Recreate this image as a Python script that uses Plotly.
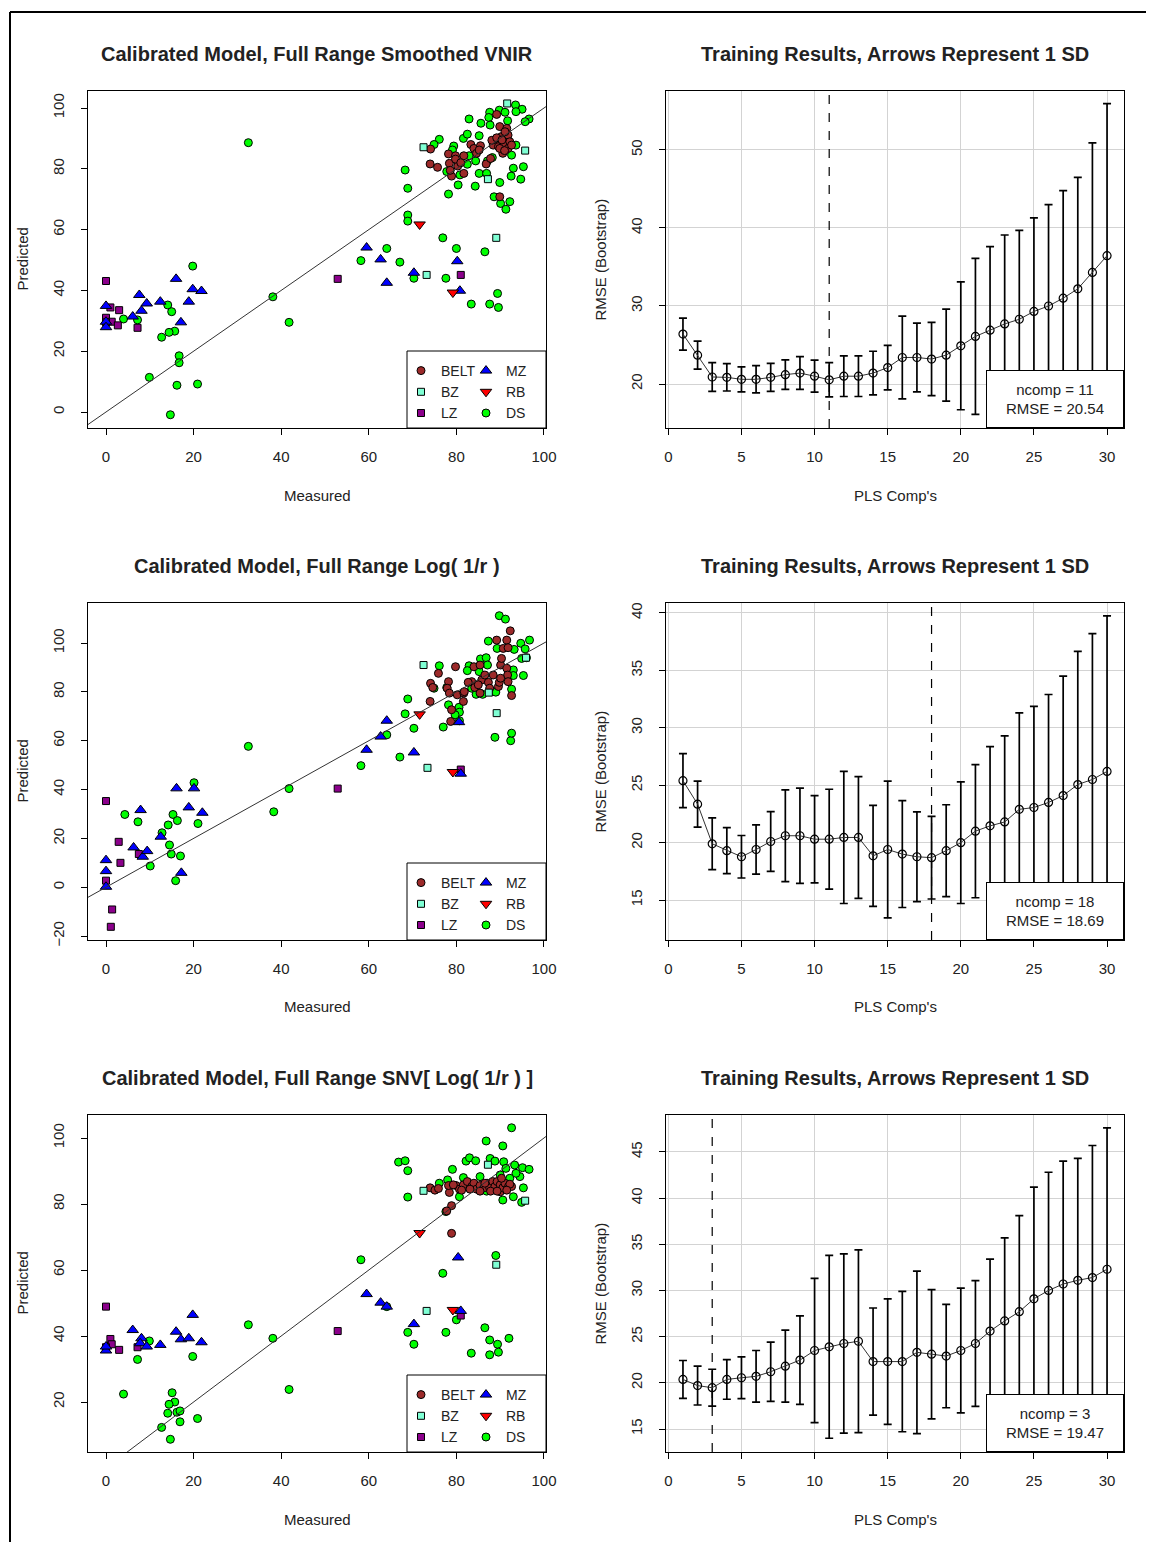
import plotly.graph_objects as go

# page offset: the html body adds an 8px margin around the figure
OFF = 8
W, H = 1154 - OFF, 1542 - OFF
FONT = "Liberation Sans, Arial, Helvetica, sans-serif"

# ---------------- data: calibrated models (measured, predicted) ----------------
VNIR_BELT = [(74.1, 86.5), (74.0, 81.6), (75.7, 80.5), (78.2, 84.9), (78.4, 81.8), (78.9, 77.6),
             (79.8, 84.3), (80.3, 80.9), (81.7, 84.3), (81.7, 78.5), (83.3, 88.0), (84.0, 86.7),
             (84.6, 85.1), (85.5, 87.6), (86.8, 81.6), (87.8, 83.4), (89.2, 97.9), (89.9, 93.9),
             (90.3, 90.6), (88.8, 88.9), (88.4, 87.8), (89.6, 87.3), (90.7, 88.4), (91.5, 93.3),
             (91.8, 91.1), (92.2, 88.9), (90.6, 85.1), (89.9, 86.7), (91.8, 86.7), (91.1, 92.2),
             (92.6, 87.8), (88.1, 89.4), (89.2, 90.2), (89.9, 70.8), (79.8, 83.2), (85.2, 86.2),
             (78.6, 79.5), (90.4, 89.5), (91.0, 86.0), (81.0, 82.0)]
VNIR_BZ = [(72.5, 87.1), (91.6, 101.5), (95.7, 86.0), (87.2, 76.6), (89.1, 57.3), (73.2, 45.1)]
VNIR_LZ = [(0, 43.1), (1.0, 34.4), (3.0, 33.5), (0, 31.0), (1.3, 29.7), (2.7, 28.5), (7.2, 27.7),
           (0, 29.5), (52.9, 43.8), (81.0, 45.1)]
VNIR_MZ = [(0, 34.9), (0, 29.7), (0, 27.9), (7.6, 38.5), (9.3, 35.7), (6.1, 31.4), (8.1, 33.3),
           (12.4, 36.3), (16.0, 43.8), (17.1, 29.5), (18.9, 36.3), (19.8, 40.4), (21.8, 39.8),
           (59.5, 54.1), (62.7, 50.2), (64.1, 42.5), (70.3, 45.8), (80.2, 49.6), (80.8, 39.9)]
VNIR_RB = [(71.6, 61.7), (79.2, 39.3)]
VNIR_DS = [(4.0, 30.6), (7.2, 30.3), (14.1, 35.2), (15.0, 33.0), (19.8, 48.0), (15.7, 26.6),
           (14.4, 26.2), (12.7, 24.6), (16.7, 18.5), (16.7, 16.2), (9.9, 11.4), (16.2, 8.8),
           (20.9, 9.2), (14.7, -0.9), (32.5, 88.6), (38.1, 37.9), (41.8, 29.5), (64.1, 53.8),
           (58.2, 49.8), (67.1, 49.3), (70.3, 44.0), (68.3, 79.6), (68.9, 73.6), (68.9, 64.8),
           (68.9, 62.8), (76.9, 57.3), (80.0, 53.8), (77.6, 44.0), (86.5, 52.7), (89.4, 39.0),
           (83.4, 35.5), (87.6, 35.5), (89.6, 34.4),
           (82.9, 96.4), (85.6, 95.0), (87.6, 98.6), (87.4, 96.9), (89.8, 99.3), (91.1, 98.6),
           (93.5, 101.0), (95.0, 99.6), (93.6, 98.8), (96.6, 96.4), (95.7, 95.5), (87.7, 94.4),
           (91.7, 95.8), (76.1, 89.7), (74.9, 88.0), (81.6, 90.0), (82.5, 91.4), (85.2, 90.9),
           (79.4, 87.5), (79.1, 86.2), (82.9, 84.3), (84.4, 82.6), (88.2, 83.7), (87.1, 82.6),
           (77.8, 79.1), (80.8, 78.0), (82.5, 81.5), (85.2, 78.5), (86.9, 78.5), (92.6, 84.5),
           (93.6, 87.8), (93.0, 80.2), (95.3, 80.7), (92.5, 77.6), (94.7, 76.6), (89.9, 75.5),
           (84.3, 74.3), (80.4, 74.7), (78.2, 71.7), (88.6, 70.8), (90.1, 68.6), (91.3, 66.7),
           (92.2, 69.2)]

LOG_BELT = [(74.0, 76.1), (74.1, 83.5), (74.6, 81.8), (75.9, 87.6), (78.2, 84.2), (77.9, 81.5),
            (79.8, 90.3), (78.4, 79.5), (80.2, 78.8), (81.7, 79.5), (81.6, 76.1), (81.8, 80.1),
            (78.9, 72.7), (78.7, 67.9), (84.0, 90.3), (85.4, 91.0), (83.5, 84.2), (84.2, 81.8),
            (85.8, 84.9), (87.3, 83.9), (88.4, 86.9), (87.6, 81.5), (89.6, 82.2), (89.8, 83.9),
            (90.1, 91.0), (90.3, 93.7), (90.7, 97.8), (89.2, 101.2), (91.5, 101.2), (91.8, 98.1),
            (92.3, 105.0), (91.5, 89.7), (91.7, 86.9), (90.1, 85.6), (91.8, 84.2), (92.6, 78.5),
            (86.5, 86.9), (82.7, 83.9), (85.0, 82.9), (85.4, 79.5)]
LOG_BZ = [(72.5, 91.0), (89.2, 71.3), (73.4, 48.9), (95.9, 94.0), (87.4, 79.7)]
LOG_LZ = [(0, 35.3), (2.9, 18.6), (3.3, 10.0), (0, 2.7), (1.4, -9.1), (1.1, -16.2), (7.5, 13.6),
          (52.9, 40.4), (81.0, 48.2)]
LOG_MZ = [(0, 11.1), (0, 6.6), (0, 0.2), (6.3, 16.3), (7.9, 31.6), (8.4, 12.5), (9.4, 14.8),
          (12.5, 20.7), (16.1, 40.5), (17.2, 5.9), (18.9, 32.7), (20.1, 40.5), (22.0, 30.5),
          (59.5, 56.3), (62.7, 61.7), (64.1, 68.2), (70.3, 55.2), (80.6, 67.6), (81.0, 46.5)]
LOG_RB = [(71.6, 70.8), (79.2, 47.2)]
LOG_DS = [(4.3, 29.8), (7.3, 26.8), (15.3, 29.8), (16.3, 27.3), (20.1, 42.8), (14.2, 25.5),
          (12.8, 22.3), (21.0, 26.1), (14.5, 17.3), (14.9, 13.6), (17.0, 12.8), (10.1, 8.7),
          (15.9, 2.7), (38.3, 30.9), (32.5, 57.7), (41.8, 40.4), (58.2, 49.8), (64.1, 62.4),
          (67.1, 53.3), (70.3, 65.1), (68.3, 71.0), (68.9, 77.1),
          (89.8, 111.2), (91.2, 109.8), (87.3, 100.8), (89.3, 97.8), (96.7, 101.2), (94.7, 99.9),
          (95.7, 97.6), (93.2, 97.4), (94.9, 93.7), (96.0, 94.0), (76.1, 90.7), (82.9, 90.7),
          (82.5, 88.7), (85.5, 93.5), (86.8, 94.0), (87.1, 91.0), (85.2, 88.3), (93.0, 89.0),
          (93.0, 86.7), (95.3, 86.7), (77.8, 81.8), (74.9, 81.5), (83.5, 81.5), (84.5, 79.0),
          (86.0, 79.0), (88.3, 80.1), (89.0, 79.9), (92.6, 81.1), (78.2, 74.7), (80.6, 73.7),
          (80.7, 71.7), (80.7, 68.2), (79.7, 70.6), (77.0, 65.6), (88.8, 61.4), (92.4, 60.0),
          (92.6, 63.1)]

SNV_BELT = [(74.0, 84.9), (75.1, 84.2), (75.9, 84.7), (78.4, 83.5), (78.2, 85.6), (78.9, 79.5),
            (77.8, 77.9), (78.9, 71.1), (79.9, 85.6), (80.7, 84.5), (81.6, 85.8), (82.5, 86.8),
            (83.5, 85.3), (84.0, 86.3), (84.6, 84.5), (85.4, 85.6), (86.3, 84.9), (87.0, 86.3),
            (87.6, 84.9), (88.3, 86.8), (88.8, 85.3), (89.3, 86.8), (90.0, 85.8), (90.0, 83.7),
            (90.6, 84.9), (91.1, 86.3), (91.9, 85.3), (92.6, 85.3), (92.2, 86.0), (90.3, 87.8),
            (87.8, 83.9), (85.4, 83.9), (83.1, 84.5), (79.3, 85.8), (81.2, 84.2), (89.3, 83.9),
            (91.5, 84.2), (86.5, 86.3)]
SNV_BZ = [(72.5, 84.0), (87.2, 91.9), (95.7, 81.0), (89.1, 61.6), (73.2, 47.6)]
SNV_LZ = [(0, 48.9), (1.0, 39.1), (1.3, 37.5), (3.0, 35.8), (7.2, 36.6), (0, 36.6),
          (52.9, 41.5), (81.0, 46.2)]
SNV_MZ = [(0, 35.6), (0, 36.8), (6.1, 41.8), (8.1, 39.3), (7.8, 37.8), (9.3, 36.8), (12.4, 37.3),
          (16.0, 41.3), (17.1, 39.0), (18.9, 39.3), (19.8, 46.4), (21.8, 38.1), (59.5, 52.7),
          (62.7, 50.1), (64.1, 48.9), (70.3, 43.6), (80.4, 63.8), (81.0, 47.6)]
SNV_RB = [(71.6, 71.2), (79.2, 47.9)]
SNV_DS = [(4.0, 22.4), (7.2, 32.9), (9.9, 38.5), (19.8, 33.8), (15.1, 22.8), (15.7, 20.0),
          (14.4, 19.3), (14.1, 16.6), (16.2, 16.9), (16.9, 17.3), (16.9, 14.0), (12.7, 12.3),
          (14.7, 8.7), (20.9, 15.0), (32.5, 43.4), (38.1, 39.3), (41.8, 23.8), (58.2, 63.1),
          (64.1, 48.9), (68.9, 41.1), (70.3, 37.5), (66.8, 92.7), (68.3, 93.1), (68.9, 90.1),
          (68.9, 82.1), (76.9, 59.0), (77.6, 41.1), (80.0, 44.9), (86.5, 42.5), (87.6, 38.8),
          (89.4, 37.5), (89.6, 35.1), (87.6, 34.3), (83.4, 34.8), (92.0, 39.3), (89.0, 64.4),
          (92.6, 103.1), (86.8, 99.1), (90.6, 97.6), (82.2, 93.0), (83.0, 94.0), (84.4, 93.1),
          (87.7, 93.8), (88.8, 93.0), (90.8, 92.8), (79.1, 90.5), (91.3, 90.8), (93.3, 91.8),
          (95.1, 91.0), (96.6, 90.5), (94.5, 88.3), (93.6, 89.3), (76.1, 86.3), (78.0, 87.3),
          (81.6, 88.0), (85.4, 88.3), (90.0, 88.8), (92.2, 87.8), (80.7, 82.2), (77.6, 77.7),
          (86.9, 83.9), (93.0, 82.2), (90.6, 81.2), (95.3, 84.9), (94.9, 80.5)]

# ---------------- data: training results ----------------
COMPS = [1, 2, 3, 4, 5, 6, 7, 8, 9, 10, 11, 12, 13, 14, 15,
         16, 17, 18, 19, 20, 21, 22, 23, 24, 25, 26, 27, 28, 29, 30]
VNIR_RMSE = [26.4, 23.7, 20.9, 20.85, 20.6, 20.6, 20.85, 21.2, 21.4, 21.0, 20.54, 21.0, 21.0, 21.4, 22.1,
             23.4, 23.4, 23.2, 23.7, 24.9, 26.1, 26.9, 27.7, 28.3, 29.3, 30.0, 31.0, 32.2, 34.3, 36.45]
VNIR_SD = [2.05, 1.8, 1.85, 1.75, 1.6, 1.75, 1.8, 1.9, 2.1, 2.05, 2.2, 2.6, 2.6, 2.8, 2.85,
           5.3, 4.4, 4.7, 5.9, 8.2, 10.0, 10.7, 11.4, 11.4, 12.0, 13.0, 13.8, 14.3, 16.6, 19.5]
LOG_RMSE = [25.4, 23.35, 19.9, 19.3, 18.77, 19.4, 20.1, 20.6, 20.6, 20.3, 20.3, 20.45, 20.45, 18.85, 19.4,
            19.0, 18.77, 18.69, 19.3, 20.0, 21.0, 21.46, 21.8, 22.9, 23.06, 23.5, 24.1, 25.06, 25.5, 26.2]
LOG_SD = [2.35, 2.0, 2.25, 2.0, 1.85, 2.15, 2.6, 4.0, 4.15, 3.8, 4.35, 5.75, 5.3, 4.4, 5.95,
          4.65, 3.9, 3.6, 4.0, 5.3, 5.8, 6.9, 7.5, 8.4, 8.8, 9.4, 10.4, 11.6, 12.7, 13.55]
SNV_RMSE = [20.37, 19.7, 19.47, 20.37, 20.55, 20.7, 21.2, 21.8, 22.46, 23.5, 23.9, 24.26, 24.5, 22.3, 22.3,
            22.3, 23.3, 23.1, 22.9, 23.5, 24.26, 25.6, 26.7, 27.7, 29.1, 30.0, 30.7, 31.1, 31.4, 32.3]
SNV_SD = [2.05, 2.1, 2.0, 2.15, 2.25, 2.8, 3.2, 3.9, 4.8, 7.8, 9.9, 9.7, 9.9, 5.8, 6.8,
          7.6, 8.8, 7.0, 5.6, 6.75, 6.8, 7.8, 9.0, 10.4, 12.1, 12.8, 13.3, 13.2, 14.3, 15.3]
NCOMP = [11, 18, 3]
BEST_RMSE = [20.54, 18.69, 19.47]

LEFT_TITLES = ["Calibrated Model, Full Range Smoothed VNIR",
               "Calibrated Model, Full Range Log( 1/r )",
               "Calibrated Model, Full Range SNV[ Log( 1/r ) ]"]
RIGHT_TITLE = "Training Results, Arrows Represent 1 SD"
CLASSES = ["BELT", "BZ", "LZ", "MZ", "RB", "DS"]
SCATTER = [
    {"BELT": VNIR_BELT, "BZ": VNIR_BZ, "LZ": VNIR_LZ, "MZ": VNIR_MZ, "RB": VNIR_RB, "DS": VNIR_DS},
    {"BELT": LOG_BELT, "BZ": LOG_BZ, "LZ": LOG_LZ, "MZ": LOG_MZ, "RB": LOG_RB, "DS": LOG_DS},
    {"BELT": SNV_BELT, "BZ": SNV_BZ, "LZ": SNV_LZ, "MZ": SNV_MZ, "RB": SNV_RB, "DS": SNV_DS},
]
TRAIN = [(VNIR_RMSE, VNIR_SD), (LOG_RMSE, LOG_SD), (SNV_RMSE, SNV_SD)]

LEFT_YTICKS = [[0, 20, 40, 60, 80, 100], [-20, 0, 20, 40, 60, 80, 100], [20, 40, 60, 80, 100]]
RIGHT_YTICKS = [[20, 30, 40, 50], [15, 20, 25, 30, 35, 40], [15, 20, 25, 30, 35, 40, 45]]
MEAS_TICKS = [0, 20, 40, 60, 80, 100]
COMP_TICKS = [0, 5, 10, 15, 20, 25, 30]

# ---------------- styles / layout geometry ----------------
STYLE = {
    "BELT": dict(symbol="circle", size=8, color="#9C2A2A"),
    "BZ": dict(symbol="square", size=7, color="#7FFFD4"),
    "LZ": dict(symbol="square", size=7, color="#8B008B"),
    "MZ": dict(symbol="triangle-up", size=10, color="#0000FF"),
    "RB": dict(symbol="triangle-down", size=10, color="#FF0000"),
    "DS": dict(symbol="circle", size=8, color="#00FF00"),
}
DRAW_ORDER = ["DS", "BELT", "BZ", "LZ", "MZ", "RB"]
COL1 = ["BELT", "BZ", "LZ"]

LEFT_XR = [-4.11, 100.46]
LEFT_YR = [[-5.26, 105.6], [-21.6, 116.4], [4.85, 106.97]]
RIGHT_XR = [-0.16, 31.16]
RIGHT_YR = [[14.36, 57.56], [11.52, 40.87], [12.51, 49.0]]
ROWS = [(91, 428), (603, 940), (1115, 1452)]   # page pixel rows (top, bottom)
LX = (88, 546)
RX = (666, 1124)


def fx(p):
    return (p - OFF) / W


def fy(p):
    return 1 - (p - OFF) / H


fig = go.Figure()
layout = dict(width=W, height=H, margin=dict(l=0, r=0, t=0, b=0), autosize=False,
              paper_bgcolor="white", plot_bgcolor="white", showlegend=True,
              font=dict(family=FONT, color="#222"))
shapes = []
annotations = []

TICKFONT = dict(family=FONT, size=15, color="#222")


def axis_base():
    return dict(showline=True, linecolor="black", linewidth=1, mirror=True, ticks="outside",
                ticklen=6, tickcolor="black", tickwidth=1, tickfont=TICKFONT, zeroline=False,
                automargin=False, fixedrange=True)


for i in range(3):
    top, bot = ROWS[i]
    nl, nr = 2 * i + 1, 2 * i + 2
    xl = "x" if nl == 1 else f"x{nl}"
    yl = "y" if nl == 1 else f"y{nl}"
    xr, yr = f"x{nr}", f"y{nr}"
    leg1 = "legend" if i == 0 else f"legend{2 * i + 1}"
    leg2 = f"legend{2 * i + 2}"

    # ---- left scatter ----
    for cls in DRAW_ORDER:
        pts = SCATTER[i][cls]
        st = STYLE[cls]
        fig.add_trace(go.Scatter(
            x=[p[0] for p in pts], y=[p[1] for p in pts], mode="markers", name=cls,
            xaxis=xl, yaxis=yl, legend=leg1 if cls in COL1 else leg2,
            legendrank=CLASSES.index(cls) + 1,
            marker=dict(symbol=st["symbol"], size=st["size"], color=st["color"],
                        line=dict(color="black", width=1)),
            hoverinfo="x+y+name"))
    # 1:1 reference line (clipped by axes)
    fig.add_trace(go.Scatter(x=[-50, 150], y=[-50, 150], mode="lines", showlegend=False,
                             xaxis=xl, yaxis=yl, line=dict(color="#333", width=1),
                             hoverinfo="skip"))

    # ---- right training curve ----
    rm, sd = TRAIN[i]
    fig.add_trace(go.Scatter(
        x=COMPS, y=rm, mode="lines+markers", showlegend=False, xaxis=xr, yaxis=yr,
        line=dict(color="#333", width=1),
        marker=dict(symbol="circle-open", size=8, color="black", line=dict(width=1.2)),
        error_y=dict(type="data", array=sd, visible=True, color="black", thickness=1.7, width=4)))

    # axes
    ax = axis_base()
    ax.update(domain=[fx(LX[0]), fx(LX[1])], range=LEFT_XR, tickvals=MEAS_TICKS,
              anchor=yl, ticklabelstandoff=9)
    layout["xaxis" if nl == 1 else f"xaxis{nl}"] = ax
    ay = axis_base()
    ay.update(domain=[fy(bot), fy(top)], range=LEFT_YR[i], tickvals=LEFT_YTICKS[i],
              anchor=xl, tickangle=-90, ticklabelstandoff=11)
    layout["yaxis" if nl == 1 else f"yaxis{nl}"] = ay

    bx = axis_base()
    bx.update(domain=[fx(RX[0]), fx(RX[1])], range=RIGHT_XR, tickvals=COMP_TICKS,
              anchor=yr, showgrid=True, gridcolor="#d3d3d3", gridwidth=1, ticklabelstandoff=9)
    layout[f"xaxis{nr}"] = bx
    by = axis_base()
    by.update(domain=[fy(bot), fy(top)], range=RIGHT_YR[i], tickvals=RIGHT_YTICKS[i],
              anchor=xr, tickangle=-90, showgrid=True, gridcolor="#d3d3d3", gridwidth=1,
              ticklabelstandoff=11)
    layout[f"yaxis{nr}"] = by

    # legends (two columns)
    for leg, left in ((leg1, 401), (leg2, 466)):
        layout[leg] = dict(x=fx(left), y=fy(top + 264), xanchor="left", yanchor="top",
                           bgcolor="rgba(0,0,0,0)", borderwidth=0, tracegroupgap=0,
                           itemwidth=30, font=dict(family=FONT, size=14, color="#222"),
                           itemclick=False, itemdoubleclick=False)
    # legend box
    shapes.append(dict(type="rect", xref="paper", yref="paper", x0=fx(407), x1=fx(LX[1]),
                       y0=fy(bot), y1=fy(top + 260), line=dict(color="black", width=1),
                       fillcolor="white", layer="above"))

    # dashed vertical line at chosen ncomp
    shapes.append(dict(type="line", xref=xr, yref=f"{yr} domain", x0=NCOMP[i], x1=NCOMP[i],
                       y0=0, y1=1, line=dict(color="black", width=1.2, dash="dash")))
    # ncomp box
    annotations.append(dict(xref=f"{xr} domain", yref=f"{yr} domain", x=1, y=0,
                            xanchor="right", yanchor="bottom", showarrow=False,
                            text=f"ncomp = {NCOMP[i]}<br>RMSE = {BEST_RMSE[i]:.2f}",
                            align="center", width=134, height=54, borderpad=1, borderwidth=1,
                            bordercolor="black", bgcolor="white",
                            font=dict(family=FONT, size=15, color="#222")))

    # titles
    for txt, cx in ((LEFT_TITLES[i], (LX[0] + LX[1]) / 2), (RIGHT_TITLE, (RX[0] + RX[1]) / 2)):
        annotations.append(dict(xref="paper", yref="paper", x=fx(cx), y=fy(top - 37),
                                xanchor="center", yanchor="middle", showarrow=False,
                                text=f"<b>{txt}</b>",
                                font=dict(family=FONT, size=20, color="#222")))
    # axis titles
    for txt, cx in (("Measured", (LX[0] + LX[1]) / 2), ("PLS Comp's", (RX[0] + RX[1]) / 2)):
        annotations.append(dict(xref="paper", yref="paper", x=fx(cx), y=fy(bot + 67),
                                xanchor="center", yanchor="middle", showarrow=False, text=txt,
                                font=dict(family=FONT, size=15, color="#222")))
    for txt, cx in (("Predicted", 22), ("RMSE (Bootstrap)", 600)):
        annotations.append(dict(xref="paper", yref="paper", x=fx(cx), y=fy((top + bot) / 2),
                                xanchor="center", yanchor="middle", showarrow=False, text=txt,
                                textangle=-90, font=dict(family=FONT, size=15, color="#222")))

# outer frame
shapes.append(dict(type="line", xref="paper", yref="paper", x0=fx(10), x1=1, y0=fy(12), y1=fy(12),
                   line=dict(color="black", width=2)))
shapes.append(dict(type="line", xref="paper", yref="paper", x0=fx(10), x1=fx(10), y0=0, y1=fy(12),
                   line=dict(color="black", width=2)))

layout["shapes"] = shapes
layout["annotations"] = annotations
fig.update_layout(**layout)
fig.write_html("out.html", config={"displayModeBar": False})
